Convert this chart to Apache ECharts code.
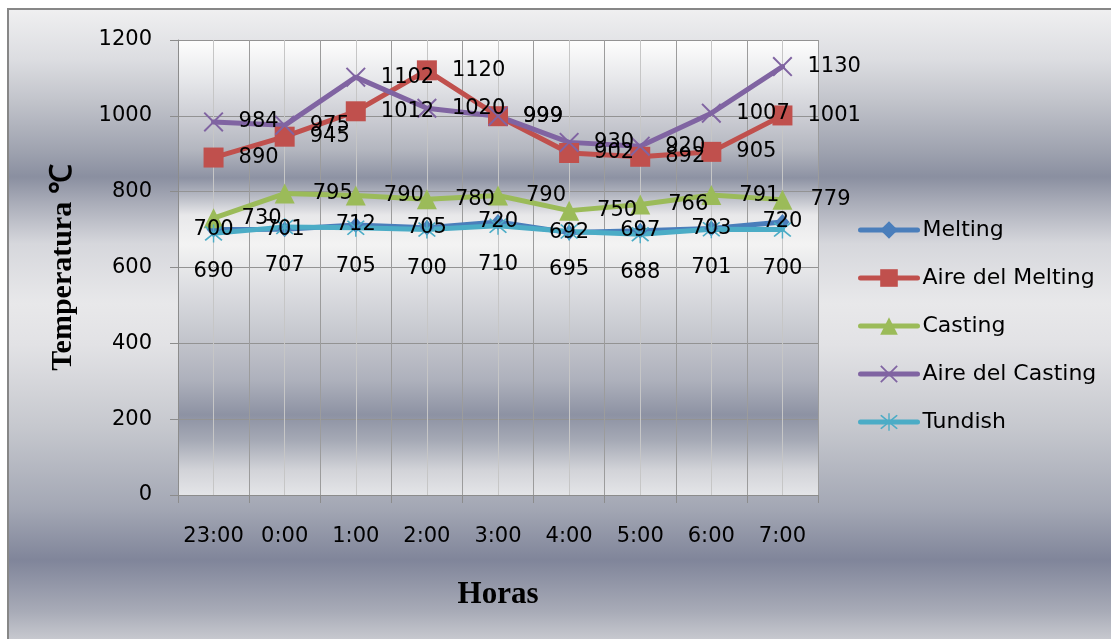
<!DOCTYPE html>
<html>
<head>
<meta charset="utf-8">
<title>Temperatura por hora</title>
<script src="https://cdn.jsdelivr.net/npm/echarts@6/dist/echarts.min.js"></script>
<style>
  html, body { margin: 0; padding: 0; background: #ffffff; }
  #chart { width: 1111px; height: 639px; }
</style>
</head>
<body>
<div id="chart"></div>
<script>
// Horas de medición
const hours = ['23:00', '0:00', '1:00', '2:00', '3:00', '4:00', '5:00', '6:00', '7:00'];

// Temperaturas (°C) por serie
const melting        = [700, 701, 712, 705, 720, 692, 697, 703, 720];
const aireMelting    = [890, 945, 1012, 1120, 999, 902, 892, 905, 1001];
const casting        = [730, 795, 790, 780, 790, 750, 766, 791, 779];
const aireCasting    = [984, 975, 1102, 1020, 999, 930, 920, 1007, 1130];
const tundish        = [690, 707, 705, 700, 710, 695, 688, 701, 700];

const seriesNames = ['Melting', 'Aire del Melting', 'Casting', 'Aire del Casting', 'Tundish'];

// Eje Y
const yMin = 0, yMax = 1200, yStep = 200;

const FONT = 'DejaVu Sans';
const SERIF = 'Liberation Serif';

// Marcadores dibujados como trazos
const crossPath = 'path://M0,1.4L1.4,0L10,8.6L18.6,0L20,1.4L11.4,10L20,18.6L18.6,20L10,11.4L1.4,20L0,18.6L8.6,10Z';
const starPath = 'path://M0,1.4L1.4,0L10,8.6L18.6,0L20,1.4L11.4,10L20,18.6L18.6,20L10,11.4L1.4,20L0,18.6L8.6,10Z' +
                 'M9.2,-2L10.8,-2L10.8,22L9.2,22Z';

const labelBase = { show: true, color: '#000', fontFamily: FONT, fontSize: 21 };

function lineSeries(name, data, color, symbol, size, label) {
  return {
    name: name,
    type: 'line',
    data: data,
    xAxisIndex: 0,
    yAxisIndex: 0,
    symbol: symbol,
    symbolSize: size,
    showAllSymbol: true,
    lineStyle: { color: color, width: 5, cap: 'round', join: 'round' },
    itemStyle: { color: color, borderWidth: 0 },
    label: Object.assign({}, labelBase, label),
    emphasis: { disabled: true },
    animation: false
  };
}

const chart = echarts.init(document.getElementById('chart'), null, { renderer: 'canvas' });

const option = {
  animation: false,
  backgroundColor: '#ffffff',
  graphic: [{
    type: 'rect',
    z: -100,
    silent: true,
    shape: { x: 8, y: 9, width: 1120, height: 640 },
    style: {
      stroke: '#878787',
      lineWidth: 2,
      fill: {
        type: 'linear', x: 0, y: 0, x2: 0, y2: 1,
        colorStops: [
          { offset: 0.00, color: '#f0f0f1' },
          { offset: 0.08, color: '#dcdde1' },
          { offset: 0.144, color: '#c2c4cb' },
          { offset: 0.224, color: '#9ea2af' },
          { offset: 0.263, color: '#8a8fa0' },
          { offset: 0.303, color: '#a9acb8' },
          { offset: 0.367, color: '#d6d7dc' },
          { offset: 0.46, color: '#e8e8ea' },
          { offset: 0.525, color: '#e2e2e5' },
          { offset: 0.652, color: '#c6c8ce' },
          { offset: 0.779, color: '#a3a7b4' },
          { offset: 0.86, color: '#80859a' },
          { offset: 0.94, color: '#a8abb7' },
          { offset: 1.00, color: '#d3d4d8' }
        ]
      }
    }
  }],
  grid: {
    left: 178, top: 40, width: 640, height: 455,
    show: true,
    borderWidth: 0,
    backgroundColor: new echarts.graphic.LinearGradient(0, 0, 0, 1, [
      { offset: 0.00, color: '#fefefe' },
      { offset: 0.088, color: '#e6e7ea' },
      { offset: 0.176, color: '#cacbd2' },
      { offset: 0.242, color: '#b3b6bf' },
      { offset: 0.303, color: '#8d92a3' },
      { offset: 0.341, color: '#b5b8c2' },
      { offset: 0.385, color: '#e8e8ea' },
      { offset: 0.45, color: '#f3f3f3' },
      { offset: 0.549, color: '#dcdde1' },
      { offset: 0.659, color: '#c3c5cc' },
      { offset: 0.747, color: '#aeb1bc' },
      { offset: 0.824, color: '#8d92a3' },
      { offset: 0.879, color: '#a5a9b5' },
      { offset: 0.945, color: '#d2d3d8' },
      { offset: 1.00, color: '#e4e5e8' }
    ])
  },
  legend: {
    orient: 'vertical',
    left: 853,
    top: 214,
    itemWidth: 57,
    itemHeight: 22,
    itemGap: 26,
    data: seriesNames,
    lineStyle: { width: 5, cap: 'round' },
    textStyle: { color: '#000', fontFamily: FONT, fontSize: 22, lineHeight: 22 },
    selectedMode: false
  },
  xAxis: [{
    type: 'category',
    data: hours,
    boundaryGap: true,
    axisLine: { show: true, lineStyle: { color: '#8c8c8c', width: 1 } },
    axisTick: { show: true, length: 8, lineStyle: { color: '#8c8c8c' } },
    axisLabel: { color: '#000', fontFamily: FONT, fontSize: 21, margin: 31, interval: 0 },
    splitLine: { show: false },
    name: 'Horas',
    nameLocation: 'middle',
    nameGap: 84,
    nameTextStyle: { color: '#000', fontFamily: SERIF, fontWeight: 'bold', fontSize: 31 }
  }, {
    // Rejilla vertical: límites y centros de cada hora
    type: 'value',
    min: 0,
    max: hours.length * 2,
    interval: 1,
    position: 'top',
    axisLine: { show: false },
    axisTick: { show: false },
    axisLabel: { show: false },
    splitLine: { show: true, lineStyle: { color: ['#9c9c9c', '#c6c6c6'], width: 1 } }
  }],
  yAxis: {
    type: 'value',
    min: yMin,
    max: yMax,
    interval: yStep,
    axisLine: { show: true, lineStyle: { color: '#8c8c8c', width: 1 } },
    axisTick: { show: true, length: 8, lineStyle: { color: '#8c8c8c' } },
    axisLabel: {
      color: '#000', fontFamily: FONT, fontSize: 21, margin: 26,
      formatter: function (v) { return String(v); }
    },
    splitLine: { show: true, lineStyle: { color: '#939393', width: 1 } },
    name: 'Temperatura ℃',
    nameLocation: 'middle',
    nameRotate: 90,
    nameGap: 100,
    nameTextStyle: { color: '#000', fontFamily: SERIF, fontWeight: 'bold', fontSize: 30 }
  },
  series: [
    lineSeries('Melting', melting, '#4a7ebb', 'diamond', [14, 16],
      { position: 'inside' }),
    lineSeries('Aire del Melting', aireMelting, '#c0504d', 'rect', 20,
      { position: 'right', distance: 15 }),
    lineSeries('Casting', casting, '#9bbb59', 'triangle', 20,
      { position: 'right', distance: 18 }),
    lineSeries('Aire del Casting', aireCasting, '#8064a2', crossPath, 20,
      { position: 'right', distance: 15 }),
    lineSeries('Tundish', tundish, '#4bacc6', starPath, 18,
      { position: 'bottom', distance: 19 })
  ]
};

chart.setOption(option);
</script>
</body>
</html>
